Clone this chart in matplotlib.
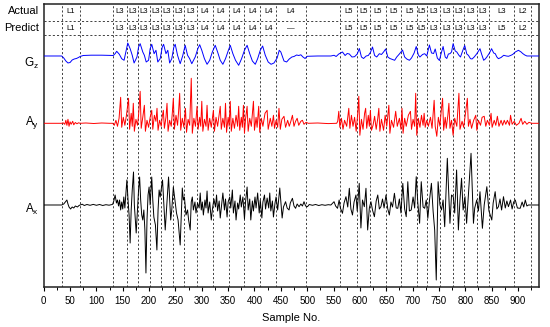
import matplotlib
matplotlib.use("Agg")
import matplotlib.pyplot as plt
from matplotlib.transforms import blended_transform_factory
from matplotlib.ticker import MultipleLocator

plt.rcParams['font.family'] = ['Liberation Sans', 'DejaVu Sans']
plt.rcParams['mathtext.default'] = 'regular'

# ---------------- data ----------------
bounds = [34, 69, 131, 158, 178, 201, 223, 245, 267, 291, 321, 351, 381, 411,
          441, 497, 563, 594, 620, 649, 679, 709, 727, 752, 776, 798, 822, 845, 893, 924]
actual_labels = ["L1", "", "L3", "L3", "L3", "L3", "L3", "L3", "L3",
                 "L4", "L4", "L4", "L4", "L4", "L4", "",
                 "L5", "L5", "L5", "L5", "L5", "L5",
                 "L3", "L3", "L3", "L3", "L3", "L3", "L2"]
predict_labels = ["L1", "", "L3", "L3", "L3", "L3", "L3", "L3", "L3",
                  "L4", "L4", "L4", "L4", "L4", "\u2014", "",
                  "L5", "L5", "L5", "L5", "L5", "L5",
                  "L3", "L3", "L3", "L3", "L3", "L5", "L2"]
xticks_major = list(range(0, 901, 50))

gz_points = [
    (0, 0), (34, 0), (38, -2), (42, -5), (46, -7), (50, -6.5), (54, -4), (58, -3), (62, -2.5),
    (66, -1.5), (69, -0.5), (75, 0.5), (90, 0.8), (110, 0.8), (130, 0.5),
    (132, 0.5), (135.5, 2.3), (138.5, 4.7), (143.5, 1.7), (148, -2.7), (152.5, -4.3), (156.5, 5.7),
    (159.5, 13), (164, 7.3), (168, 0.7), (171.5, -7), (177, -1), (180, 9), (183, 12.3), (188, 4),
    (191, 0.7), (194.5, -6), (199, -4.3), (202, 7.3), (205, 11.7), (209.5, 2.3), (213, 5.7),
    (216.5, -6), (221, -2.7), (225, 9), (227.5, 11.7), (232, 2.3), (235.5, 5.7), (239, -7),
    (243, -2.7), (247, 9), (249.5, 11.7), (254, 0.7), (259, -7.7), (264, 0.7), (268.5, 10.7),
    (273, 0.7), (277, -2.7), (281, -7.7), (287.5, -1), (292.5, 7.3), (296, 11.3), (300, 5.7),
    (305, -2.7), (310, -8.3), (315, -4.3), (320, 4), (325.5, 10.7), (330, 4), (335, -4.3),
    (340, -8.3), (345, -2.7), (350.5, 5.7), (354, 10.7), (359, 2.3), (364, -4.3), (370, -9.3),
    (375.5, -2.7), (381, 5.7), (386, 10.7), (391, 2.3), (396, -5), (401.5, -8.3), (406, -2.7),
    (411, 5.7), (415.5, 10), (420.5, 0.7), (426, -6), (431.5, -8.3), (437, -7), (443, -2),
    (447, 5.7), (450, 4), (456, -5), (461, -6), (466, -3), (471, -1), (475, -0.5), (480, 1),
    (484, 0.5), (488, 1.2), (492, -1), (496, -2.5), (500, -0.3), (520, 0), (545, 0), (551, 0.7),
    (555, -0.5), (560, 2), (567, 4), (572, 0.5), (576, 2.5), (580, 2), (585, -1), (590, -0.7),
    (595, 2), (599, 7.5), (603, -1), (607, -2.5), (612, 0), (616, 0.5), (620, 3.5), (624, 9),
    (628, 0.5), (632, -1), (637, 2.3), (641, 1.5), (645, 4), (649, 7), (653, -1), (657, -2.5),
    (662, -3.5), (666, -4.3), (670, -1), (675, 2), (681, 6), (685, -1), (689, -3), (694, -4.3),
    (698, -2), (703, 3), (707, 9.5), (711, 1), (714, -1), (719, 1.5), (723, 2.3), (727, 0),
    (732, 11), (736, 3), (740, 2.5), (743, 7), (747, -2), (751, -4.5), (754, 2), (758, 9.5),
    (762, -1), (765, -2.5), (768, 2), (771, 2.3), (774, 4), (777, 12.3), (781, 5), (784, 4),
    (788, 0.7), (791, -1), (795, 5), (799, 10.5), (803, 2), (806, 0.7), (810, -2.7), (813, -3),
    (817, -1), (822, 2.3), (828, 7.3), (831, 2), (835, -4.3), (838, -3), (841, -1), (846, 3),
    (850, 7.3), (854, 3), (857, 2.3), (860, -1), (863, -2.7), (868, -1.5), (873, 0.7), (878, 0),
    (882, -0.3), (886, 0.5), (890, 1.5), (895, 4), (901, 5.7), (906, 4), (909, 2.5), (913, 1),
    (917, 0), (926, 0), (940, 0),
]

ay_points = [
    (0, 0), (34, 0), (37, 0.5), (40, -1), (42, 3), (44, -2), (46, 4), (48, -3), (50, 1.5),
    (52, -1), (55, 2), (57, -1.5), (60, 0.8), (63, -0.5), (66, 0.5), (69, 0), (80, 0.3),
    (95, -0.2), (110, 0.3), (125, 0), (131, 0),
    (134, -2), (137, 3), (140, -3), (143, 5), (146, 26), (148, -4), (151, 6), (154, -2), (157, 8),
    (161, 25), (163, -6), (166, 10), (168, -3), (170, 20), (172, -8), (175, 4), (178, -2), (180, 8),
    (183, 32), (185, -5), (188, 6), (191, 18), (193, -8), (196, 3), (199, -4), (202, 6), (205, 13),
    (207, -6), (210, 8), (213, 2), (215, 15), (217, -7), (220, 3), (223, -3), (225, 7), (227, 13),
    (229, -5), (232, 6), (234, 20), (236, -8), (239, 3), (242, -3), (244, 10), (246, 25), (248, -6),
    (251, 8), (254, -2), (256, 12), (258, 30), (260, -7), (263, 5), (266, -4), (269, 15), (271, -9),
    (274, 4), (277, -2), (280, 45), (282, -10), (285, 5), (288, -3), (291, 17), (293, -6), (296, 6),
    (298, -3), (300, 22), (302, -8), (305, 4), (308, -3), (310, 18), (312, -7), (315, 5), (318, -4),
    (322, 13), (324, -8), (327, 6), (330, -3), (335, 17), (337, -6), (340, 5), (343, -4), (345, 20),
    (347, -9), (350, 6), (352, -3), (354, 22), (356, -8), (359, 5), (362, -5), (365, 8), (368, -3),
    (370, 17), (372, -7), (375, 6), (377, -4), (379, 18), (381, -10), (383, 4), (386, 17), (388, -8),
    (391, 5), (394, -3), (398, 22), (400, -7), (403, 6), (405, -4), (408, 17), (410, -9), (413, 5),
    (416, -3), (420, 10), (424, 13), (426, -6), (430, 5), (433, -3), (436, 8), (438, -5), (441, 3),
    (444, -4), (446.5, 15), (449, -6), (452, 4), (456, 7), (459, -4), (463, 3), (466, -3), (469, 2),
    (472, 8), (475, -3), (478, 2), (481, 5), (484, -2), (488, 2), (491, 3), (494, -1), (498, 1),
    (502, 0), (520, 0.3), (540, -0.3), (556, 0),
    (558, 2), (560, 12), (562, -4), (565, 5), (568, -6), (571, 3), (575, -3), (579, 15), (581, -5),
    (584, 8), (587, -3), (590, 6), (593, -8), (596, 10), (598, 27), (600, -12), (603, 4), (606, -6),
    (609, 10), (611, 15), (613, -5), (616, 8), (618, -3), (620, 13), (622, -7), (625, -2), (628, 7),
    (631, -6), (634, 5), (636, 15), (638, -8), (641, 4), (645, -7), (648, 8), (651, -3), (655, 18),
    (657, -10), (660, 3), (664, -4), (668, 12), (671, -3), (675, 5), (678, -6), (680, 15), (682, -10),
    (685, 5), (688, -3), (692, 8), (696, 12), (698, -6), (701, 4), (704, -3), (706, 30), (708, -12),
    (711, 5), (714, -4), (717, 8), (720, -2), (722, 10), (724, -4), (727, 3), (730, -3), (734, 6),
    (737, -5), (741, 23), (743, -3), (746, -13), (749, 6), (752, -3), (754, 10), (757, 25), (759, -7),
    (762, 6), (764, -5), (767, 8), (769, 20), (771, -5), (774, 3), (777, -12), (780, 5), (784, -3),
    (788, 30), (790, -6), (794, 2), (797, -4), (800, 8), (804, 25), (806, -3), (809, 4), (812, -5),
    (816, 3), (820, 8), (822, -7), (825, 3), (829, -2), (832, 6), (836, 7), (839, -3), (842, 3),
    (846, -2), (849, 10), (851, -4), (855, 3), (858, -2), (861, 7), (864, -3), (868, 3), (871, -2),
    (874, 3), (877, -1), (880, 3), (884, -2), (886, 8), (889, -1), (893, 2), (897, -2), (902, 0),
    (906, 5), (909, -1), (913, 2), (917, -1), (921, 1), (926, 0), (940, 0),
]

ax_points = [
    (0, 0), (34, 0), (38, 1), (41, 3), (44, 5), (46, 1), (48, -2), (51, -4), (54, -2), (57, -3),
    (60, -1), (64, -2), (67, -0.5), (69, 0), (73, 0.8), (77, -0.5), (82, 0.5), (88, -0.3),
    (94, 0.6), (100, -0.3), (106, 0.5), (112, -0.5), (118, 0.3), (124, -0.2), (130, 0.5),
    (131, 1), (133, 4), (135.5, 10), (138, 2), (140, 5), (142, -1), (144, 5), (146, -5), (148, 3),
    (150, -4), (152, 8), (154, -3), (157.8, 25), (160, 5), (162, -10), (164, -38), (166, -5),
    (168, 15), (170.4, 33), (172, 0), (175.5, -28), (178, -5), (180, 15), (182, 28), (184, 5),
    (186, -10), (188, -15), (190, -5), (192, -25), (194, -68), (196, -15), (198, 10), (200, 18),
    (202, 0), (205, 28), (207, 5), (209, -12), (212, -20), (214.8, -45), (217, -5), (219, 15),
    (221, 8), (225.5, 25), (228, 0), (230.6, -25), (233, -5), (236.9, 28), (239, 5), (241, -15),
    (243, -5), (246, 18), (249, 5), (252, -8), (255, -15), (259, -40), (261, -10), (263, 17),
    (265, 5), (267, 8), (270, -10), (273, -5), (275, -15), (278, -25), (280, 3), (282, 8),
    (284, -5), (287, 3), (289, -8), (292, 2), (295, -3), (297, 12), (299, -5), (301, 3),
    (303, -10), (306, 5), (308, -3), (310, 14), (312, -8), (315, 3), (318, -15), (320, -5),
    (323, 6), (326, -2), (328, 10), (330, -6), (333, 4), (335, -13), (338, 2), (340, 12),
    (343, -5), (345, 6), (348, -12), (350, 3), (353, 8), (355, -3), (358, 15), (360, -8),
    (363, 4), (365, -15), (368, 2), (370, -4), (373, 10), (375, -2), (378, 8), (381, -14),
    (383, 3), (386, 18), (388, -5), (391, 6), (393, -15), (396, 4), (398, -6), (401, 8),
    (403, -3), (406, 12), (409, -8), (411, 5), (414, -13), (416, 3), (419, 10), (421, -4),
    (424, 7), (427, -3), (429, 12), (431, -6), (434, 4), (436, -12), (439, 2), (441, 8),
    (444, -5), (448, 17), (452.5, -13), (455, -2), (459, 3.3), (462, -3), (465.6, -5), (468, 2),
    (472, 6.7), (475, -1), (478, -3.3), (481, 1), (484.6, -1.7), (488, 1), (491, -1), (494, 3.3),
    (497, -1), (500.6, -1.7), (504, 0.5), (510, -0.3), (516, 0.5), (522, -0.5), (528, 0.3),
    (534, -0.3), (540, 0.3), (545, 0),
    (551, 3.3), (554, -1), (557.6, -3.3), (560.7, 5), (563, -3), (567, -8.3), (570, 2),
    (573.6, 8.3), (577, -2), (580, 16.7), (583, -4), (586, -10), (589, 3), (592.6, 10), (595, -6),
    (598.8, 21.7), (602, -23), (605, 5), (608.5, -1.7), (611.6, 16.7), (614.8, -25), (618, -3),
    (621, 3.3), (624, -5), (627.6, -11.7), (631, 4), (634, 10), (637, -4), (640, -1.7), (643, 6),
    (646, -3), (649.6, 10), (653, -4), (656, -10), (659, 3), (662, -2), (665.6, 11.7), (669, -3),
    (672, -3.3), (675, 6), (678, -8), (681.5, 21.7), (685, -4), (688, -11.7), (691, 23.3),
    (694, -6), (697.5, -5), (701, 8), (704, -3), (707, 28.3), (710, 2), (713.4, -18.3),
    (716.5, 23.3), (720, -2), (723, -3.3), (726, 5), (729, -13.3), (732, 4), (735.8, 21.7),
    (739, -6), (742, -25), (745, -75), (748.5, 23.3), (752, 0), (755, -5), (758, 5),
    (761, -21.7), (766, 46.7), (771, -18.3), (774, 10), (777.3, 8.3), (780, -8), (783.6, 35),
    (787, -25), (790, 5), (793, 26.7), (796, -5), (799.5, 8.3), (802.6, -18.3), (806, 10),
    (811, 51.7), (815.6, -18.3), (818, -3), (821.8, 5), (825, -6), (828, 13.3), (832.6, -23.3),
    (836, 0), (841, 18.3), (845, -6), (850.4, -15), (853, 2), (856.8, 13.3), (860, -4),
    (863, -1.7), (866, 6), (869, -5), (872.6, 8.3), (876, -3), (879, 4), (882, -1.7), (886, 5),
    (889, -4), (892, 3), (895, 5), (899, -3), (904.3, -3.3), (908, 3), (911, -2), (914, 5),
    (917, -1), (920, 0), (926.5, 0), (940, 0),
]

# ---------------- layout constants ----------------
XMAX = 940
YMAX = 283.5
ACTUAL_Y = 276.0
PREDICT_Y = 259.2
HLINES = [266.5, 252.0]
GZ_BASE, AY_BASE, AX_BASE = 231.5, 164.2, 82.5

fig = plt.figure(figsize=(5.5, 3.27), dpi=100)
ax = fig.add_axes([0.0795, 0.1208, 0.9005, 0.867])
ax.set_xlim(0, XMAX)
ax.set_ylim(0, YMAX)

dash = (0, (2.5, 2.5))
for b in bounds:
    ax.axvline(b, color='#222222', lw=0.6, ls=dash, zorder=1)
for h in HLINES:
    ax.axhline(h, color='#222222', lw=0.6, ls=dash, zorder=1)

for i in range(len(bounds) - 1):
    xm = 0.5 * (bounds[i] + bounds[i + 1])
    if actual_labels[i]:
        ax.text(xm, ACTUAL_Y, actual_labels[i], ha='center', va='center', fontsize=5.5)
    if predict_labels[i]:
        ax.text(xm, PREDICT_Y, predict_labels[i], ha='center', va='center', fontsize=5.5)

def draw(points, base, color):
    xs = [p[0] for p in points]
    ys = [base + p[1] for p in points]
    ax.plot(xs, ys, color=color, lw=0.7, zorder=3)

draw(gz_points, GZ_BASE, '#0000ff')
draw(ay_points, AY_BASE, '#ff0000')
draw(ax_points, AX_BASE, '#000000')

tr = blended_transform_factory(ax.transAxes, ax.transData)
ax.text(-0.009, ACTUAL_Y, 'Actual', transform=tr, ha='right', va='center', fontsize=8)
ax.text(-0.009, PREDICT_Y, 'Predict', transform=tr, ha='right', va='center', fontsize=8)
ax.text(-0.009, 224.5, 'G$_z$', transform=tr, ha='right', va='center', fontsize=8.5)
ax.text(-0.009, 165.0, 'A$_y$', transform=tr, ha='right', va='center', fontsize=8.5)
ax.text(-0.009, 78.0, 'A$_x$', transform=tr, ha='right', va='center', fontsize=8.5)

ax.set_xticks(xticks_major)
ax.xaxis.set_minor_locator(MultipleLocator(25))
ax.set_yticks([])
ax.tick_params(axis='x', which='major', direction='out', length=3, width=0.8,
               labelsize=7, pad=3)
ax.tick_params(axis='x', which='minor', direction='out', length=2, width=0.7)
ax.set_xlabel('Sample No.', fontsize=8, labelpad=5)
for s in ax.spines.values():
    s.set_linewidth(1.1)
    s.set_color('#222222')

fig.savefig('out.png', dpi=100)
